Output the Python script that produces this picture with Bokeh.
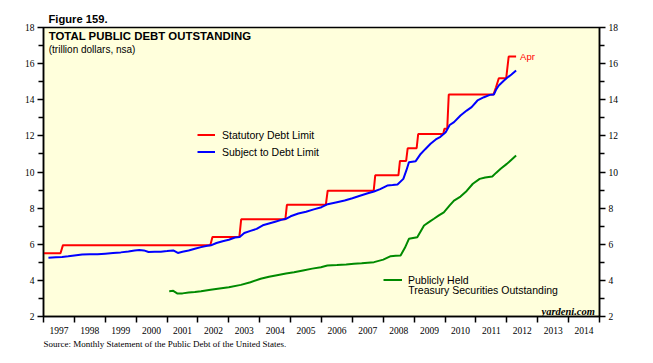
from bokeh.plotting import figure
from bokeh.models import Range1d, LinearAxis, FixedTicker, Label, Legend, LegendItem, Title
from bokeh.embed import file_html
from bokeh.resources import INLINE

# ---------------- data (trillion dollars, decimal years) ----------------
year_labels = [str(y) for y in range(1997, 2015)]

limit_x = [1997.0, 1997.55, 1997.63, 2002.40, 2002.47, 2003.34, 2003.40, 2004.83, 2004.88,
           2006.14, 2006.20, 2007.69, 2007.74, 2008.49, 2008.54, 2008.74, 2008.79, 2009.08,
           2009.13, 2009.94, 2009.98, 2010.07, 2010.12, 2011.57, 2011.65, 2011.74, 2011.98,
           2012.06, 2012.30]
limit_y = [5.5, 5.5, 5.95, 5.95, 6.4, 6.4, 7.384, 7.384, 8.184, 8.184, 8.965, 8.965, 9.815,
           9.815, 10.615, 10.615, 11.315, 11.315, 12.104, 12.104, 12.394, 12.394, 14.294,
           14.294, 14.694, 15.194, 15.194, 16.394, 16.394]

subject_x = [1997.16, 1997.4, 1997.6, 1997.8, 1998.0, 1998.25, 1998.5, 1998.75, 1999.0, 1999.25,
             1999.5, 1999.75, 1999.95, 2000.1, 2000.25, 2000.4, 2000.6, 2000.8, 2001.0, 2001.2,
             2001.35, 2001.5, 2001.7, 2001.9, 2002.1, 2002.3, 2002.42, 2002.6, 2002.8, 2003.0,
             2003.2, 2003.35, 2003.5, 2003.7, 2003.9, 2004.1, 2004.3, 2004.5, 2004.7, 2004.85,
             2005.0, 2005.25, 2005.5, 2005.75, 2006.0, 2006.2, 2006.5, 2006.75, 2007.0, 2007.27,
             2007.5, 2007.7, 2007.9, 2008.13, 2008.3, 2008.46, 2008.65, 2008.75, 2008.83, 2009.05,
             2009.21, 2009.35, 2009.53, 2009.7, 2009.85, 2010.02, 2010.15, 2010.29, 2010.5, 2010.7,
             2010.86, 2011.05, 2011.26, 2011.45, 2011.58, 2011.65, 2011.74, 2011.9, 2012.0, 2012.15,
             2012.3]
subject_y = [5.25, 5.28, 5.30, 5.33, 5.38, 5.43, 5.45, 5.44, 5.48, 5.52,
             5.55, 5.60, 5.65, 5.68, 5.66, 5.57, 5.58, 5.59, 5.62, 5.66,
             5.52, 5.58, 5.65, 5.75, 5.84, 5.92, 5.94, 6.07, 6.17, 6.25,
             6.37, 6.40, 6.62, 6.74, 6.85, 7.05, 7.15, 7.25, 7.35, 7.41,
             7.55, 7.70, 7.80, 7.93, 8.05, 8.22, 8.33, 8.42, 8.55, 8.70,
             8.82, 8.92, 9.05, 9.25, 9.28, 9.31, 9.62, 10.1, 10.54, 10.60,
             11.0, 11.25, 11.56, 11.80, 11.95, 12.2, 12.6, 12.76, 13.13, 13.40,
             13.59, 13.96, 14.14, 14.27, 14.29, 14.55, 14.79, 15.05, 15.2, 15.4,
             15.62]

public_x = [2001.07, 2001.2, 2001.34, 2001.5, 2001.7, 2001.9, 2002.1, 2002.41, 2002.7, 2003.0,
            2003.39, 2003.7, 2004.03, 2004.3, 2004.6, 2004.85, 2005.11, 2005.4, 2005.7, 2005.98,
            2006.19, 2006.5, 2006.8, 2007.05, 2007.3, 2007.5, 2007.7, 2008.0, 2008.24, 2008.4,
            2008.56, 2008.7, 2008.83, 2009.1, 2009.32, 2009.5, 2009.64, 2009.8, 2009.96, 2010.15,
            2010.29, 2010.5, 2010.7, 2010.9, 2011.12, 2011.3, 2011.53, 2011.65, 2011.8, 2012.0,
            2012.15, 2012.3]
public_y = [3.40, 3.42, 3.27, 3.28, 3.33, 3.36, 3.40, 3.48, 3.55, 3.62,
            3.75, 3.90, 4.09, 4.20, 4.30, 4.38, 4.45, 4.55, 4.65, 4.73,
            4.82, 4.85, 4.88, 4.92, 4.95, 4.98, 5.01, 5.15, 5.34, 5.36,
            5.38, 5.80, 6.30, 6.39, 7.04, 7.25, 7.41, 7.60, 7.77, 8.15,
            8.42, 8.64, 8.95, 9.35, 9.62, 9.70, 9.75, 9.95, 10.18, 10.45,
            10.68, 10.91]

y_major = [2, 4, 6, 8, 10, 12, 14, 16, 18]
y_minor = [3, 5, 7, 9, 11, 13, 15, 17]

SANS = "Liberation Sans"
SERIF = "Liberation Serif"

p = figure(width=653, height=363,
           x_range=Range1d(1997, 2015), y_range=Range1d(2, 18),
           output_backend="svg", toolbar_location=None,
           min_border_left=43, min_border_right=54,
           min_border_top=27, min_border_bottom=47,
           background_fill_color="#FFFFDC", border_fill_color="white",
           outline_line_color="black", outline_line_width=1.5)
p.grid.visible = False

# ---- x axis: labels centred on each year, ticks at year boundaries
year_centres = [int(s) + 0.5 for s in year_labels]
year_bounds = [int(s) for s in year_labels] + [int(year_labels[-1]) + 1]
xa = p.xaxis[0]
xa.ticker = FixedTicker(ticks=year_centres, minor_ticks=year_bounds)
xa.major_label_overrides = {c: s for c, s in zip(year_centres, year_labels)}
xa.major_tick_out = 0
xa.major_tick_in = 0
xa.minor_tick_out = 6
xa.minor_tick_in = 0
xa.minor_tick_line_width = 1.5
xa.minor_tick_line_color = "black"
xa.axis_line_width = 1.5
xa.major_label_standoff = 4
xa.major_label_text_font = SERIF
xa.major_label_text_font_size = "9.5px"
xa.major_label_text_color = "black"

def style_y(ax):
    ax.ticker = FixedTicker(ticks=y_major, minor_ticks=y_minor)
    ax.major_tick_out = 6
    ax.major_tick_in = 0
    ax.minor_tick_out = 5
    ax.minor_tick_in = 0
    ax.major_tick_line_width = 1.5
    ax.minor_tick_line_width = 1.5
    ax.axis_line_width = 1.5
    ax.major_label_standoff = 3
    ax.major_label_text_font = SERIF
    ax.major_label_text_font_size = "9.5px"
    ax.major_label_text_color = "black"

style_y(p.yaxis[0])
ry = LinearAxis()
style_y(ry)
p.add_layout(ry, "right")

# ---- series
r_lim = p.line(limit_x, limit_y, line_color="#FF0000", line_width=2)
r_sub = p.line(subject_x, subject_y, line_color="#0000FF", line_width=2)
r_pub = p.line(public_x, public_y, line_color="#008A00", line_width=2)

# ---- legends
leg1 = Legend(items=[LegendItem(label="Statutory Debt Limit", renderers=[r_lim]),
                     LegendItem(label="Subject to Debt Limit", renderers=[r_sub])],
              location=(154, 158), border_line_color=None, background_fill_alpha=0,
              padding=0, margin=0, spacing=4, glyph_width=18, glyph_height=13,
              label_height=13, label_standoff=7, label_text_font=SANS,
              label_text_font_size="10.5px", label_text_color="black")
leg2 = Legend(items=[LegendItem(label="Publicly Held", renderers=[r_pub])],
              location=(340, 30), border_line_color=None, background_fill_alpha=0,
              padding=0, margin=0, spacing=4, glyph_width=19, glyph_height=13,
              label_height=13, label_standoff=6, label_text_font=SANS,
              label_text_font_size="10.5px", label_text_color="black")
p.add_layout(leg1)
p.add_layout(leg2)

p.add_layout(Label(x=2008.81, y=3.44, text="Treasury Securities Outstanding",
                   text_font=SANS, text_font_size="10.5px", text_baseline="middle",
                   text_color="black"))

# ---- annotations
p.add_layout(Label(x=limit_x[-1], y=limit_y[-1], x_offset=4, text="Apr",
                   text_font=SANS, text_font_size="9.5px", text_baseline="middle",
                   text_color="#FF0000"))
p.add_layout(Label(x=1997.17, y=17.52, text="TOTAL PUBLIC DEBT OUTSTANDING", text_font=SANS,
                   text_font_size="11.4px", text_font_style="bold",
                   text_baseline="middle", text_color="black"))
p.add_layout(Label(x=1997.17, y=16.77, text="(trillion dollars, nsa)", text_font=SANS,
                   text_font_size="10px", text_baseline="middle", text_color="black"))
p.add_layout(Label(x=2014.85, y=2.28, text="yardeni.com", text_font=SERIF,
                   text_font_size="10.5px", text_font_style="bold italic",
                   text_align="right", text_baseline="middle", text_color="black"))

p.add_layout(Title(text="Figure 159.", align="left", offset=5, standoff=6,
                   text_font=SANS, text_font_size="11.2px", text_font_style="bold",
                   text_color="black"), "above")
p.add_layout(Title(text="Source: Monthly Statement of the Public Debt of the United States.",
                   align="left", offset=0, standoff=0, text_font=SERIF,
                   text_font_size="9px", text_font_style="normal",
                   text_color="black"), "below")

open("out.html", "w").write(file_html(p, INLINE))
